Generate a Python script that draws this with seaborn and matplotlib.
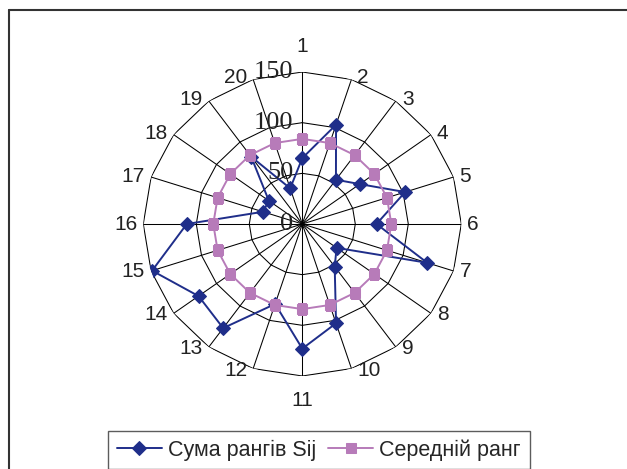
import numpy as np
import pandas as pd
import matplotlib
matplotlib.use('Agg')
import matplotlib.pyplot as plt
import matplotlib.transforms as mtransforms
from matplotlib.lines import Line2D
import seaborn as sns

sns.set_style('white')
plt.rcParams['font.family'] = ['Liberation Sans', 'DejaVu Sans']

# Дані, зчитані з діаграми
categories = [str(i) for i in range(1, 21)]
suma_rangiv = [65, 103, 54, 67, 102, 70, 124, 40, 52, 103,
               123, 83, 127, 121, 149, 109, 39, 39, 82, 37]
serednii_rang = [84, 84, 84, 84, 84, 84, 84, 84, 84, 84,
                 84, 84, 84, 84, 84, 84, 84, 84, 84, 84]
r_ticks = [0, 50, 100, 150]
r_max = 150

blue = '#1F2E8A'
purple = '#B77BB9'

n = len(categories)
angles = np.arange(n) * 2 * np.pi / n
theta_closed = np.append(angles, 2 * np.pi)

W, H = 627, 469
fig = plt.figure(figsize=(W / 100, H / 100), dpi=100)
cx, cy, rx, ry = 302.3, 224, 159, 152
ax = fig.add_axes([(cx - rx) / W, (H - cy - ry) / H, 2 * rx / W, 2 * ry / H],
                  projection='polar')
ax.set_aspect('auto')
ax.set_theta_zero_location('N')
ax.set_theta_direction(-1)
ax.set_ylim(0, r_max)

# Сітка: промені та багатокутники
ax.set_xticks(angles)
ax.set_xticklabels([])
ax.set_yticks([])
ax.xaxis.grid(True, color='black', linewidth=0.75)
ax.yaxis.grid(False)
ax.spines['polar'].set_visible(False)
for r in r_ticks[1:]:
    ax.plot(theta_closed, [r] * (n + 1), color='black', linewidth=0.75, zorder=1)

# Серії
df1 = pd.DataFrame({'theta': theta_closed, 'r': suma_rangiv + suma_rangiv[:1]})
df2 = pd.DataFrame({'theta': theta_closed, 'r': serednii_rang + serednii_rang[:1]})
sns.lineplot(data=df1, x='theta', y='r', ax=ax, sort=False, estimator=None,
             color=blue, linewidth=1.4, marker='D', markersize=7,
             markeredgecolor=blue, label='Сума рангів Sij', zorder=3)
sns.lineplot(data=df2, x='theta', y='r', ax=ax, sort=False, estimator=None,
             color=purple, linewidth=1.4, marker='s', markersize=7,
             markeredgecolor=purple, label='Середній ранг', zorder=4)
ax.set_xlabel('')
ax.set_ylabel('')

# Підписи радіальної осі
for r in r_ticks:
    tr = mtransforms.offset_copy(ax.transData, fig=fig, x=-9, y=0, units='dots')
    ax.text(0, r, str(r), transform=tr, ha='right', va='center',
            family='Liberation Serif', fontsize=19, color='#222222')

# Підписи категорій
for i, lab in enumerate(categories):
    th = angles[i]
    deg = i * 360 / n
    if deg == 0:
        ha, va, ox, oy = 'center', 'bottom', 0, 16
    elif deg == 180:
        ha, va, ox, oy = 'center', 'top', 0, -15
    elif deg < 180:
        ha, va, ox, oy = 'left', 'center', 6, 2.5 * np.cos(th)
    else:
        ha, va, ox, oy = 'right', 'center', -6, 2.5 * np.cos(th)
    tr = mtransforms.offset_copy(ax.transData, fig=fig, x=ox, y=oy, units='dots')
    ax.text(th, r_max, lab, transform=tr, ha=ha, va=va, fontsize=15,
            color='#222222')

ax.legend_.remove()
handles, labels = ax.get_legend_handles_labels()
leg = fig.legend(handles, labels, loc='upper left',
                 bbox_to_anchor=(108 / W, 1 - 430.7 / H), ncol=2,
                 fontsize=15.5, frameon=True, fancybox=False, borderpad=0.4,
                 handlelength=2.1, handletextpad=0.28, columnspacing=0.56,
                 borderaxespad=0)
leg.get_frame().set_edgecolor('#333333')
leg.get_frame().set_linewidth(1.0)

# Рамка діаграми
fig.add_artist(Line2D([9 / W, 1], [1 - 10 / H, 1 - 10 / H],
                      transform=fig.transFigure, color='#333333', linewidth=1.5))
fig.add_artist(Line2D([9 / W, 9 / W], [0, 1 - 10 / H],
                      transform=fig.transFigure, color='#333333', linewidth=1.5))

fig.savefig('out.png', dpi=100)
